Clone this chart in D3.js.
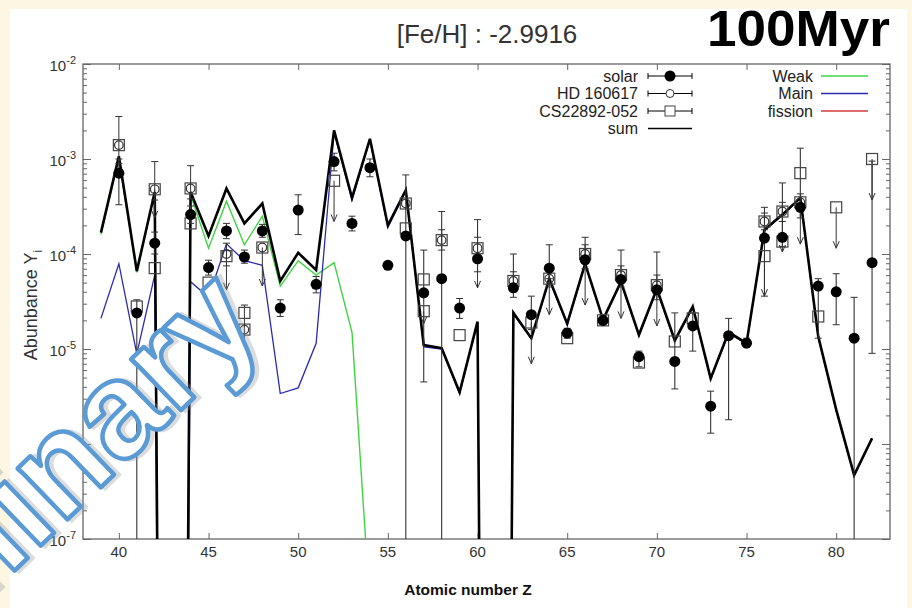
<!DOCTYPE html>
<html>
<head>
<meta charset="utf-8">
<script src="https://cdn.jsdelivr.net/npm/d3@7"></script>
<style>
  html, body { margin: 0; padding: 0; background: #fdf6e3; }
  #main { width: 912px; height: 608px; }
  text { font-family: "Liberation Sans", Arial, sans-serif; }
</style>
</head>
<body>
<div id="main"></div>
<script>
// model curves (Z = 39..82), zeros for Tc / Pm drawn as very small numbers
const modelZ = [39,40,41,42,43,44,45,46,47,48,49,50,51,52,53,54,55,56,57,58,59,60,61,62,63,64,65,66,67,68,69,70,71,72,73,74,75,76,77,78,79,80,81,82];
const sumY = [1.68e-4,1.07e-3,6.6e-5,4.5e-4,1e-30,4.5e-4,1.55e-4,4.9e-4,2.1e-4,3.4e-4,5.2e-5,1.03e-4,6.8e-5,2.0e-3,3.9e-4,1.63e-3,2.0e-4,4.7e-4,1.1e-5,1.02e-5,3.5e-6,1.94e-5,1e-30,2.4e-5,1.3e-5,5.5e-5,1.85e-5,7.9e-5,2.04e-5,5.1e-5,1.41e-5,4.3e-5,1.23e-5,2.8e-5,4.9e-6,1.5e-5,1.15e-5,1.8e-4,2.6e-4,3.9e-4,1.35e-5,2.3e-6,4.7e-7,1.15e-6];
const mainY = [2.1e-5,7.9e-5,8.9e-6,6.0e-5,1e-30,5.1e-5,3.5e-5,1.28e-4,8.5e-5,7.6e-5,3.4e-6,3.9e-6,1.15e-5,1.9e-3,3.7e-4,1.6e-3,1.9e-4,4.6e-4,1.05e-5,1.0e-5,3.4e-6,1.9e-5,1e-30,2.35e-5,1.28e-5,5.4e-5,1.8e-5,7.8e-5,2.0e-5,5.0e-5,1.38e-5,4.2e-5,1.2e-5,2.75e-5,4.8e-6,1.47e-5,1.13e-5,1.77e-4,2.55e-4,3.85e-4,1.32e-5,2.25e-6,4.6e-7,1.12e-6];
const weakZ = [39,40,41,42,43,44,45,46,47,48,49,50,51,52,53,54];
const weakY = [1.6e-4,1.0e-3,6.4e-5,4.4e-4,1e-30,4.2e-4,1.15e-4,3.6e-4,1.25e-4,2.5e-4,4.6e-5,8.5e-5,6.0e-5,8.1e-5,1.5e-5,2e-8];

// solar (filled circles)
const solarZ  = [40,41,42,44,45,46,47,48,49,50,51,52,53,54,55,56,57,58,59,60,62,63,64,65,66,67,68,69,70,71,72,73,74,75,76,77,78,79,80,81,82];
const solarY  = [7.1e-4,2.4e-5,1.3e-4,2.6e-4,7.2e-5,1.75e-4,9.3e-5,1.75e-4,2.7e-5,2.9e-4,4.8e-5,9.4e-4,2.1e-4,8.1e-4,7.6e-5,1.55e-4,3.9e-5,5.5e-5,2.7e-5,8.9e-5,4.4e-5,2.3e-5,7.1e-5,1.47e-5,8.7e-5,2.0e-5,5.4e-5,8.3e-6,4.2e-5,7.4e-6,1.75e-5,2.5e-6,1.38e-5,1.15e-5,1.47e-4,1.5e-4,3.1e-4,4.6e-5,4.0e-5,1.3e-5,8.1e-5];
const solarLo = [3.3e-4,1e-9,1.0e-4,2.1e-4,6.0e-5,1.45e-4,8.0e-5,1.5e-4,2.2e-5,1.6e-4,3.9e-5,7.5e-4,1.75e-4,6.5e-4,null,1e-9,4.5e-6,1e-9,2.1e-5,6.5e-5,3.5e-5,1.6e-5,5.5e-5,1.3e-5,7.0e-5,1.8e-5,4.5e-5,6.5e-6,3.3e-5,3.8e-6,9.5e-6,1.3e-6,1.8e-6,1.05e-5,3.6e-5,1.2e-4,2.4e-4,1.3e-5,1.8e-5,1e-9,9e-6];
const solarHi = [1.0e-3,3.3e-5,1.7e-4,3.2e-4,8.6e-5,2.1e-4,1.1e-4,2.05e-4,3.3e-5,4.2e-4,5.8e-5,1.15e-3,2.5e-4,1.0e-3,null,6.8e-4,1.1e-4,2.8e-4,3.4e-5,2.3e-4,1.0e-4,3.6e-5,1.25e-4,1.65e-5,1.5e-4,2.3e-5,1.1e-4,9.5e-6,1.05e-4,2.4e-5,2.4e-5,3.6e-6,2.1e-5,1.3e-5,3.1e-4,5.6e-4,1.3e-3,5.5e-5,6.2e-5,3.5e-5,9.5e-4];

// HD 160617 (open circles), arrow = upper limit tip
const hdZ     = [40,42,44,46,47,48,56,58,60,62,64,66,68,70,76,77,78];
const hdY     = [1.4e-3,4.8e-4,4.9e-4,1.0e-4,1.6e-5,1.17e-4,3.4e-4,1.4e-4,1.15e-4,5.2e-5,5.5e-5,1.0e-4,6.0e-5,4.7e-5,2.2e-4,2.8e-4,3.5e-4];
const hdLo    = [9e-4,3.7e-4,3.8e-4,7.5e-5,6.3e-6,null,null,1.1e-4,9e-5,4.0e-5,4.5e-5,8e-5,5e-5,3.8e-5,1.8e-4,2.2e-4,2.9e-4];
const hdHi    = [2.8e-3,9.4e-4,8.5e-4,1.3e-4,2.9e-5,null,null,1.8e-4,1.5e-4,6.5e-5,7e-5,1.25e-4,7.5e-5,6e-5,2.7e-4,3.5e-4,4.3e-4];
const hdArrow = [null,2.4e-4,null,4.2e-5,null,4.6e-5,null,null,4.4e-5,null,2.3e-5,2.9e-5,2.1e-5,1.75e-5,null,1.05e-4,1.27e-4];

// CS22892-052 (open squares)
const csZ     = [40,41,42,42,44,44,45,46,47,47,48,52,56,56,57,57,58,59,60,62,63,64,65,66,67,68,69,70,71,72,76,76,77,77,78,78,79,80,82];
const csY     = [1.4e-3,2.8e-5,4.8e-4,7.1e-5,4.9e-4,2.1e-4,5.0e-5,9.5e-5,2.4e-5,1.6e-5,1.17e-4,5.9e-4,3.4e-4,1.86e-4,5.4e-5,2.5e-5,1.4e-4,1.4e-5,1.15e-4,5.2e-5,1.9e-5,5.5e-5,1.3e-5,1.0e-4,2.0e-5,6.0e-5,7.2e-6,4.7e-5,1.2e-5,2.1e-5,2.2e-4,9.5e-5,2.8e-4,1.35e-4,7.1e-4,3.5e-4,2.2e-5,3.1e-4,1.0e-3];
const csArrow = [null,null,null,null,null,null,null,null,null,null,null,2.2e-4,null,null,null,1.85e-5,null,null,null,null,7e-6,null,null,null,null,null,null,null,null,null,null,3.6e-5,null,null,null,null,null,1.15e-4,3.7e-4];

const xTicks = [40,45,50,55,60,65,70,75,80];
const yMajor = [1e-7,1e-6,1e-5,1e-4,1e-3,1e-2];
const yExp = ["-7","-6","-5","-4","-3","-2"];

function drawChart() {
    d3.select("#main svg").remove();

    const svg = d3.select("#main").append("svg")
        .attr("width", 912)
        .attr("height", 608);

    // white slide area on cream background
    svg.append("rect").attr("x", 10).attr("y", 9).attr("width", 897).attr("height", 599).attr("fill", "#ffffff");

    const left = 83, right = 890, top = 64, bottom = 539;
    const x = d3.scaleLinear().domain([38, 83]).range([left, right]);
    const y = d3.scaleLog().domain([1e-7, 1e-2]).range([bottom, top]);

    svg.append("clipPath").attr("id", "clip")
        .append("rect").attr("x", left).attr("y", top)
        .attr("width", right - left).attr("height", bottom - top);

    const axisCol = "#666";

    // axes with inward ticks
    const gB = svg.append("g").attr("transform", `translate(0,${bottom})`)
        .call(d3.axisBottom(x).tickValues(xTicks).tickSize(-6).tickSizeOuter(0).tickFormat(""));
    const gT = svg.append("g").attr("transform", `translate(0,${top})`)
        .call(d3.axisTop(x).tickValues(xTicks).tickSize(-6).tickSizeOuter(0).tickFormat(""));
    const gL = svg.append("g").attr("transform", `translate(${left},0)`)
        .call(d3.axisLeft(y).tickValues(y.ticks()).tickSize(-4).tickSizeOuter(0).tickFormat(""));
    const gR = svg.append("g").attr("transform", `translate(${right},0)`)
        .call(d3.axisRight(y).tickValues(y.ticks()).tickSize(-4).tickSizeOuter(0).tickFormat(""));
    [gL, gR].forEach(g => g.selectAll(".tick line")
        .attr("x2", d => yMajor.some(m => Math.abs(m - d) / m < 1e-6) ? (g === gL ? 8 : -8) : (g === gL ? 4 : -4)));
    [gB, gT, gL, gR].forEach(g => {
        g.select(".domain").remove();
        g.selectAll(".tick line").attr("stroke", axisCol).attr("stroke-width", 1);
    });
    svg.append("rect").attr("x", left).attr("y", top)
        .attr("width", right - left).attr("height", bottom - top)
        .attr("fill", "none").attr("stroke", axisCol).attr("stroke-width", 1.3);

    // tick labels
    svg.selectAll(".xlab").data(xTicks).enter().append("text")
        .attr("x", d => x(d)).attr("y", bottom + 18)
        .attr("text-anchor", "middle").attr("font-size", 15).attr("fill", "#333")
        .text(d => d);

    const yl = svg.selectAll(".ylab").data(yMajor).enter().append("text")
        .attr("x", 76).attr("y", d => y(d) + 7)
        .attr("text-anchor", "end").attr("font-size", 15).attr("fill", "#333");
    yl.append("tspan").text("10");
    yl.append("tspan").attr("dy", -7).attr("font-size", 11).text((d, i) => yExp[i]);

    // axis titles
    const yt = svg.append("text")
        .attr("transform", "translate(37,305) rotate(-90)")
        .attr("text-anchor", "middle").attr("font-size", 18).attr("fill", "#333");
    yt.append("tspan").text("Abunbance   Y");
    yt.append("tspan").attr("dy", 5).attr("font-size", 12).text("i");

    svg.append("text").attr("x", 468).attr("y", 595)
        .attr("text-anchor", "middle").attr("font-family", "'Open Sans', sans-serif")
        .attr("font-weight", "bold").attr("font-size", 15.5).attr("fill", "#111")
        .text("Atomic number Z");

    svg.append("text").attr("x", 487).attr("y", 43)
        .attr("text-anchor", "middle").attr("font-size", 26).attr("fill", "#333")
        .text("[Fe/H] : -2.9916");

    svg.append("text").attr("x", 707).attr("y", 46)
        .attr("font-size", 50).attr("font-weight", "bold").attr("fill", "#000")
        .attr("textLength", 183).attr("lengthAdjust", "spacingAndGlyphs")
        .text("100Myr");

    // model lines
    const plot = svg.append("g").attr("clip-path", "url(#clip)");
    const line = d3.line().x(d => x(d[0])).y(d => y(Math.max(d[1], 1e-40)));

    plot.append("path").datum(d3.zip(weakZ, weakY))
        .attr("d", line).attr("fill", "none").attr("stroke", "#3fd43f").attr("stroke-width", 1.4);
    plot.append("path").datum(d3.zip(modelZ, mainY))
        .attr("d", line).attr("fill", "none").attr("stroke", "#2b2bb0").attr("stroke-width", 1.3);
    plot.append("path").datum(d3.zip(modelZ, sumY))
        .attr("d", line).attr("fill", "none").attr("stroke", "#000").attr("stroke-width", 2.6)
        .attr("stroke-linejoin", "miter");

    // error bars + arrows
    const pts = plot.append("g");
    function errBars(zs, lo, hi, w) {
        zs.forEach((z, i) => {
            if (lo[i] == null) return;
            const cx = x(z);
            pts.append("line").attr("x1", cx).attr("x2", cx)
                .attr("y1", y(lo[i])).attr("y2", y(hi[i]))
                .attr("stroke", "#333").attr("stroke-width", w);
            [lo[i], hi[i]].forEach(v => pts.append("line")
                .attr("x1", cx - 3.5).attr("x2", cx + 3.5).attr("y1", y(v)).attr("y2", y(v))
                .attr("stroke", "#333").attr("stroke-width", 1));
        });
    }
    function arrows(zs, vals, tips) {
        zs.forEach((z, i) => {
            if (tips[i] == null) return;
            const cx = x(z), ty = y(tips[i]);
            pts.append("line").attr("x1", cx).attr("x2", cx).attr("y1", y(vals[i])).attr("y2", ty)
                .attr("stroke", "#333").attr("stroke-width", 1);
            pts.append("path").attr("d", `M${cx - 3},${ty - 7}L${cx},${ty}L${cx + 3},${ty - 7}`)
                .attr("fill", "none").attr("stroke", "#333").attr("stroke-width", 1);
        });
    }
    errBars(solarZ, solarLo, solarHi, 1.1);
    errBars(hdZ, hdLo, hdHi, 1);
    arrows(hdZ, hdY, hdArrow);
    arrows(csZ, csY, csArrow);

    // markers
    pts.selectAll(".cs").data(d3.zip(csZ, csY)).enter().append("rect")
        .attr("x", d => x(d[0]) - 5.5).attr("y", d => y(d[1]) - 5.5)
        .attr("width", 11).attr("height", 11)
        .attr("fill", "none").attr("stroke", "#444").attr("stroke-width", 1.2);
    pts.selectAll(".hd").data(d3.zip(hdZ, hdY)).enter().append("circle")
        .attr("cx", d => x(d[0])).attr("cy", d => y(d[1])).attr("r", 4.3)
        .attr("fill", "none").attr("stroke", "#333").attr("stroke-width", 1.2);
    pts.selectAll(".solar").data(d3.zip(solarZ, solarY)).enter().append("circle")
        .attr("cx", d => x(d[0])).attr("cy", d => y(d[1])).attr("r", 5.5)
        .attr("fill", "#000");

    // legend
    const lg = svg.append("g").attr("font-size", 16).attr("fill", "#222");
    const legL = [
        { name: "solar", kind: "solar" },
        { name: "HD 160617", kind: "hd" },
        { name: "CS22892-052", kind: "cs" },
        { name: "sum", kind: "sum" }
    ];
    legL.forEach((d, i) => {
        const ly = 76 + i * 17.5;
        lg.append("text").attr("x", 638).attr("y", ly + 5.5).attr("text-anchor", "end").text(d.name);
        lg.append("line").attr("x1", 648).attr("x2", 692).attr("y1", ly).attr("y2", ly)
            .attr("stroke", "#000").attr("stroke-width", d.kind === "sum" ? 1.3 : 1);
        if (d.kind !== "sum") {
            [648, 692].forEach(cx => lg.append("line").attr("x1", cx).attr("x2", cx)
                .attr("y1", ly - 3).attr("y2", ly + 3).attr("stroke", "#000"));
        }
        if (d.kind === "solar") lg.append("circle").attr("cx", 670).attr("cy", ly).attr("r", 5.5).attr("fill", "#000");
        if (d.kind === "hd") lg.append("circle").attr("cx", 670).attr("cy", ly).attr("r", 4).attr("fill", "#fff").attr("stroke", "#333");
        if (d.kind === "cs") lg.append("rect").attr("x", 665).attr("y", ly - 5).attr("width", 10).attr("height", 10).attr("fill", "#fff").attr("stroke", "#444");
    });
    const legR = [
        { name: "Weak", color: "#3fd43f" },
        { name: "Main", color: "#2b2bb0" },
        { name: "fission", color: "#d43b3b" }
    ];
    legR.forEach((d, i) => {
        const ly = 76 + i * 17.5;
        lg.append("text").attr("x", 813).attr("y", ly + 5.5).attr("text-anchor", "end").text(d.name);
        lg.append("line").attr("x1", 821).attr("x2", 868).attr("y1", ly).attr("y2", ly)
            .attr("stroke", d.color).attr("stroke-width", 1.5);
    });

    // "Preliminary" watermark (cut off by the left edge, as in the slide)
    const wm = svg.append("g").attr("transform", "translate(266,328) rotate(-44)");
    wm.append("text").attr("x", 3).attr("y", 3)
        .attr("text-anchor", "end").attr("font-family", "'Open Sans', sans-serif")
        .attr("font-weight", "bold").attr("font-size", 135).attr("fill", "none")
        .attr("stroke", "#9a9a9a").attr("stroke-opacity", 0.35).attr("stroke-width", 5)
        .text("Preliminary");
    wm.append("text")
        .attr("text-anchor", "end").attr("font-family", "'Open Sans', sans-serif")
        .attr("font-weight", "bold").attr("font-size", 135).attr("fill", "#fff")
        .attr("stroke", "#5b9bd5").attr("stroke-width", 4.5).attr("stroke-linejoin", "round")
        .text("Preliminary");
}

document.addEventListener("DOMContentLoaded", function() {
    drawChart();
});
</script>
</body>
</html>
